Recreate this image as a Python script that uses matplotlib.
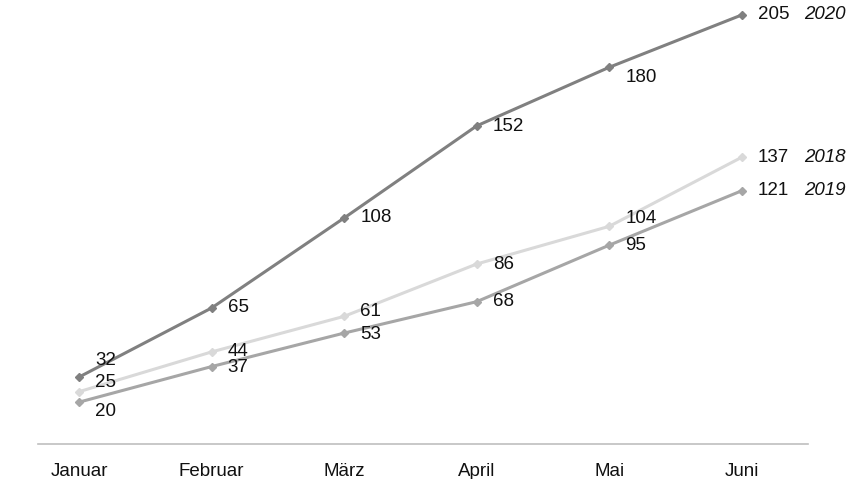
import matplotlib
matplotlib.use("Agg")
import matplotlib.pyplot as plt

plt.rcParams['font.family'] = ['Liberation Sans', 'DejaVu Sans']

# Monthly values per year
months = ["Januar", "Februar", "März", "April", "Mai", "Juni"]
years = ["2018", "2019", "2020"]
values_2018 = [25, 44, 61, 86, 104, 137]
values_2019 = [20, 37, 53, 68, 95, 121]
values_2020 = [32, 65, 108, 152, 180, 205]

series = {"2018": values_2018, "2019": values_2019, "2020": values_2020}
colors = {"2018": "#d9d9d9", "2019": "#a6a6a6", "2020": "#808080"}
# vertical nudge (pixels, positive = down) for each value label
nudge = {
    "2018": [-9, 0, -5, 0, -8, 0],
    "2019": [9, 1, 1, 0, 0, 0],
    "2020": [-17, 0, 0, 1, 10, 0],
}

fig = plt.figure(figsize=(8.62, 4.79), dpi=100)
ax = fig.add_axes([38 / 862, 35 / 479, 770 / 862, 439.5 / 479])

x = list(range(len(months)))
for yr in years:
    vals = series[yr]
    ax.plot(x, vals, color=colors[yr], lw=2.2, marker="D", ms=4.5,
            zorder=3, clip_on=False)
    for i, v in enumerate(vals):
        ax.annotate(str(v), (x[i], v), xytext=(16, -nudge[yr][i]),
                    textcoords="offset pixels", ha="left", va="center",
                    fontsize=13.5, color="#111111", annotation_clip=False)
    # series name after the last point
    ax.annotate(yr, (x[-1], vals[-1]), xytext=(62, 0),
                textcoords="offset pixels", ha="left", va="center",
                fontsize=13.5, style="italic", color="#111111",
                annotation_clip=False)

ax.set_xlim(-0.31, 5.5)
ax.set_ylim(0, 210)
ax.set_xticks(x)
ax.set_xticklabels(months, fontsize=13.5, color="#111111")
ax.tick_params(axis="x", length=0, pad=13.5)
ax.set_yticks([])
for side in ["top", "right", "left"]:
    ax.spines[side].set_visible(False)
ax.spines["bottom"].set_color("#bfbfbf")
ax.spines["bottom"].set_linewidth(1.2)

fig.savefig("out.png", dpi=100)
